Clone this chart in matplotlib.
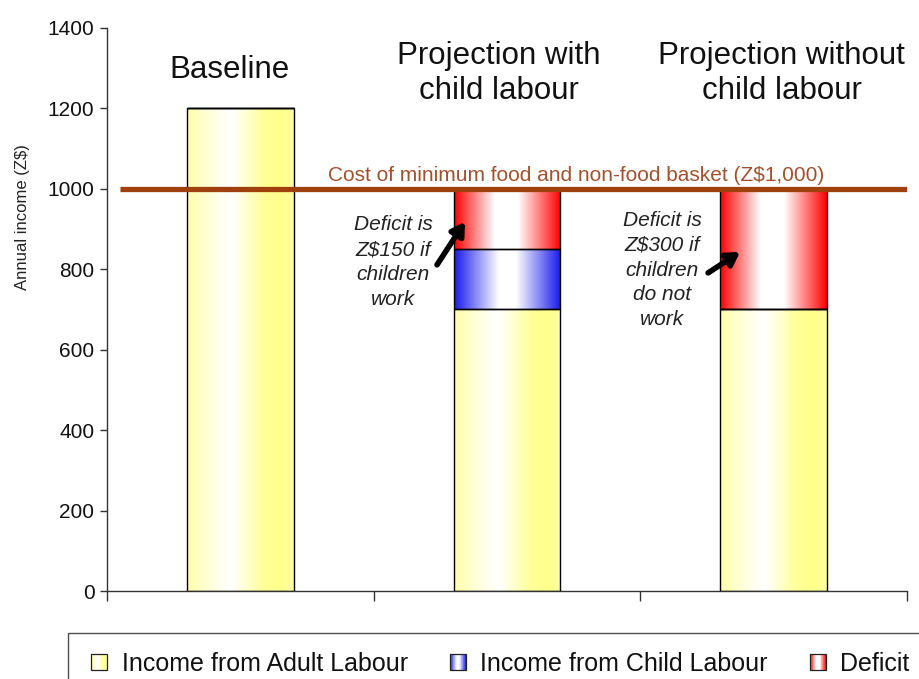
import numpy as np
import matplotlib
matplotlib.use("Agg")
import matplotlib.pyplot as plt
from matplotlib.patches import Rectangle
from matplotlib.legend_handler import HandlerBase

# ---- data ----
categories = ["Baseline", "Projection with\nchild labour", "Projection without\nchild labour"]
adult_income = [1200, 700, 700]
child_income = [0, 150, 0]
deficit = [0, 150, 300]
basket_cost = 1000
y_ticks = [0, 200, 400, 600, 800, 1000, 1200, 1400]
basket_label = "Cost of minimum food and non-food basket (Z$1,000)"
note_with = "Deficit is\nZ$150 if\nchildren\nwork"
note_without = "Deficit is\nZ$300 if\nchildren\ndo not\nwork"
legend_labels = ["Income from Adult Labour", "Income from Child Labour", "Deficit"]

plt.rcParams['font.family'] = ['Liberation Sans', 'DejaVu Sans']

fig = plt.figure(figsize=(9.2, 6.79), dpi=100)
ax = fig.add_axes([0.1163, 0.1296, 0.8696, 0.8292])

x = np.arange(len(categories))
width = 0.4

YELLOW = (1.0, 1.0, 0.55)
BLUE = (0.1, 0.1, 0.92)
RED = (1.0, 0.0, 0.0)

profiles = {
    'adult': (YELLOW, [0, 0.3, 0.42, 0.72, 0.88, 1.0], [0.75, 0.15, 0.0, 0.9, 1.0, 0.8]),
    'child': (BLUE, [0, 0.42, 0.58, 1.0], [1.0, 0.0, 0.0, 1.0]),
    'deficit': (RED, [0, 0.38, 0.6, 1.0], [1.0, 0.0, 0.0, 1.0]),
}

def grad_img(kind, n=200):
    col, pos, inten = profiles[kind]
    t = np.linspace(0, 1, n)
    a = np.interp(t, pos, inten)
    c = np.array(col)
    rgb = (1 - a)[:, None] * 1.0 + a[:, None] * c[None, :]
    return rgb[None, :, :]

def draw_stack(values, bottoms, kind):
    bars = ax.bar(x, values, width, bottom=bottoms, facecolor='none',
                  edgecolor='black', linewidth=1.0, zorder=3)
    img = grad_img(kind)
    for b, v in zip(bars, values):
        if v <= 0:
            continue
        x0, y0 = b.get_x(), b.get_y()
        ax.imshow(img, extent=[x0, x0 + b.get_width(), y0, y0 + b.get_height()],
                  aspect='auto', zorder=2, interpolation='bilinear')
    return bars

adult = np.array(adult_income)
child = np.array(child_income)
defi = np.array(deficit)
draw_stack(adult, np.zeros_like(adult), 'adult')
draw_stack(child, adult, 'child')
draw_stack(defi, adult + child, 'deficit')

ax.set_xlim(-0.5, len(categories) - 0.5)
ax.set_ylim(0, 1400)
ax.set_yticks(y_ticks)
ax.set_yticklabels([str(v) for v in y_ticks], fontsize=15, color='#111111')
ax.set_xticks(np.arange(len(categories) + 1) - 0.5)
ax.set_xticklabels([])
ax.tick_params(axis='y', length=5, width=1, colors='#333333', labelcolor='#111111', pad=4)
ax.tick_params(axis='x', length=7, width=1, colors='#333333', direction='out')
for s in ['top', 'right']:
    ax.spines[s].set_visible(False)
for s in ['left', 'bottom']:
    ax.spines[s].set_color('#333333')
    ax.spines[s].set_linewidth(1.0)

# basket line
ax.plot([-0.45, len(categories) - 0.5], [basket_cost, basket_cost], color='#a0400c',
        linewidth=3.8, zorder=4, solid_capstyle='butt')
ax.text(1.26, basket_cost + 10, basket_label, color='#a0522d', fontsize=15,
        ha='center', va='bottom', zorder=5)

# category titles
title_x = [-0.04, 0.97, 2.03]
title_y = [1295, 1287, 1287]
for xi, yi, cat in zip(title_x, title_y, categories):
    ax.text(xi, yi, cat, ha='center', va='center',
            fontsize=22.5, color='#111111', linespacing=1.25)

# annotations
arrow_style = dict(arrowstyle='-|>,head_length=0.75,head_width=0.45',
                   color='black', lw=4.0, shrinkA=0, shrinkB=0)
ax.text(0.5725, 818, note_with, ha='center', va='center', fontsize=15,
        style='italic', color='#222222', linespacing=1.38)
ax.annotate('', xy=(0.8425, 918), xytext=(0.7375, 811), arrowprops=arrow_style, zorder=6)
ax.text(1.581, 798, note_without, ha='center', va='center', fontsize=15,
        style='italic', color='#222222', linespacing=1.38)
ax.annotate('', xy=(1.874, 843), xytext=(1.754, 791), arrowprops=arrow_style, zorder=6)

# y label
fig.text(0.024, 1 - 217 / 679, "Annual income (Z$)", rotation=90, ha='center',
         va='center', fontsize=12, color='#222222')

# legend
class GradHandler(HandlerBase):
    def __init__(self, kind):
        super().__init__()
        self.kind = kind
    def create_artists(self, legend, orig_handle, xdescent, ydescent, width, height, fontsize, trans):
        col, pos, inten = profiles[self.kind]
        arts = []
        n = 24
        s = height * 1.0
        x0 = -xdescent + (width - s) / 2
        y0 = -ydescent
        for i in range(n):
            t = (i + 0.5) / n
            a = np.interp(t, pos, inten)
            c = tuple((1 - a) + a * np.array(col))
            arts.append(Rectangle((x0 + i * s / n, y0), s / n, s, facecolor=c,
                                  edgecolor='none', transform=trans))
        arts.append(Rectangle((x0, y0), s, s, facecolor='none', edgecolor='#222222',
                              linewidth=0.9, transform=trans))
        return arts

h1, h2, h3 = object(), object(), object()
leg = fig.legend([h1, h2, h3], legend_labels,
                 handler_map={h1: GradHandler('adult'), h2: GradHandler('child'),
                              h3: GradHandler('deficit')},
                 loc='upper left', bbox_to_anchor=(0.074, 1 - 633 / 679),
                 ncol=3, frameon=True, fancybox=False, borderaxespad=0,
                 prop={'size': 18},
                 handlelength=1.0, handleheight=0.6, handletextpad=0.4,
                 columnspacing=1.5, borderpad=0.75)
leg.get_frame().set_edgecolor('#222222')
leg.get_frame().set_linewidth(1.0)
for t in leg.get_texts():
    t.set_color('#111111')

fig.savefig('out.png', dpi=100)
